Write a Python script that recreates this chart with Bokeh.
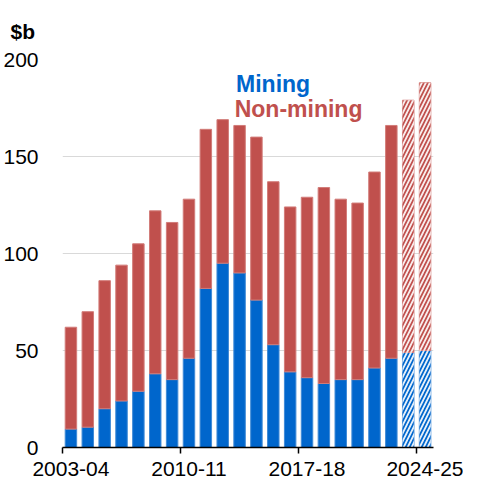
from bokeh.plotting import figure
from bokeh.models import ColumnDataSource, FixedTicker, Range1d
from bokeh.core.properties import field, value
from bokeh.embed import file_html
from bokeh.resources import INLINE

years = ["2003-04", "2004-05", "2005-06", "2006-07", "2007-08", "2008-09", "2009-10",
         "2010-11", "2011-12", "2012-13", "2013-14", "2014-15", "2015-16", "2016-17",
         "2017-18", "2018-19", "2019-20", "2020-21", "2021-22", "2022-23", "2023-24", "2024-25"]
mining = [9.5, 10.5, 20, 24, 29, 38, 35, 46, 82, 95, 90, 76, 53, 39, 36, 33, 35, 35, 41, 46, 49, 50]
non_mining = [52.5, 59.5, 66, 70, 76, 84, 81, 82, 82, 74, 76, 84, 84, 85, 93, 101, 93, 91, 101, 120, 130, 138]
projected = [False] * 20 + [True, True]
label_years = ["2003-04", "2010-11", "2017-18", "2024-25"]
y_ticks = [0, 50, 100, 150, 200]

BLUE = "#0066CC"
RED = "#C0504D"
FONT = "Liberation Sans"

xs = list(range(len(years)))
src = ColumnDataSource(dict(
    x=xs, year=years, Mining=mining, NonMining=non_mining,
    hatch=["/" if p else " " for p in projected],
))

p = figure(width=463, height=478, output_backend="svg", toolbar_location=None,
           x_range=Range1d(-0.5, len(years) - 0.5), y_range=Range1d(0, 200),
           min_border_left=59, min_border_right=30, min_border_top=51, min_border_bottom=20)
p.outline_line_color = None
p.background_fill_color = "white"

# solid fill layer
p.vbar_stack(["Mining", "NonMining"], x="x", width=0.68, source=src,
             fill_color=[BLUE, RED], line_color=["#3F8AD6", "#D27C79"], line_width=1)
# hatch overlay for projected years
p.vbar_stack(["Mining", "NonMining"], x="x", width=0.68, source=src,
             fill_alpha=0, line_color=None,
             hatch_pattern=field("hatch"), hatch_color="white", hatch_weight=1.8,
             hatch_scale=8, hatch_alpha=0.9)

# x axis
idx = [years.index(y) for y in label_years]
p.xaxis.ticker = FixedTicker(ticks=idx, minor_ticks=[i - 0.5 for i in idx])
p.xaxis.major_label_overrides = {i: years[i] for i in idx}
p.xaxis.major_tick_line_color = None
p.xaxis.major_tick_out = 0
p.xaxis.major_tick_in = 0
p.xaxis.minor_tick_line_color = "black"
p.xaxis.minor_tick_line_width = 1.5
p.xaxis.minor_tick_out = 6
p.xaxis.minor_tick_in = 0
p.xaxis.axis_line_color = "black"
p.xaxis.axis_line_width = 1.5
p.xaxis.major_label_text_font = FONT
p.xaxis.major_label_text_font_size = "21px"
p.xaxis.major_label_text_color = "black"
p.xaxis.major_label_standoff = 8

# y axis
p.yaxis.ticker = FixedTicker(ticks=y_ticks, minor_ticks=[])
p.yaxis.axis_line_color = None
p.yaxis.major_tick_line_color = None
p.yaxis.minor_tick_line_color = None
p.yaxis.major_label_text_font = FONT
p.yaxis.major_label_text_font_size = "21px"
p.yaxis.major_label_text_color = "black"
p.yaxis.major_label_standoff = 18

p.xgrid.grid_line_color = None
p.ygrid.ticker = FixedTicker(ticks=y_ticks[1:])
p.ygrid.grid_line_color = "#D9D9D9"
p.ygrid.grid_line_width = 1.2

p.title.text = "$b"
p.title.align = "left"
p.title.offset = -52
p.title.standoff = 34
p.title.text_font = FONT
p.title.text_font_style = "bold"
p.title.text_font_size = "21px"
p.title.text_color = "black"

p.text(x=[9.79, 9.71], y=[187.5, 174.5], text=["Mining", "Non-mining"],
       text_color=[BLUE, RED], text_font=value(FONT), text_font_style="bold",
       text_font_size="23px", text_baseline="alphabetic", text_align="left")

open("out.html", "w").write(file_html(p, INLINE))
